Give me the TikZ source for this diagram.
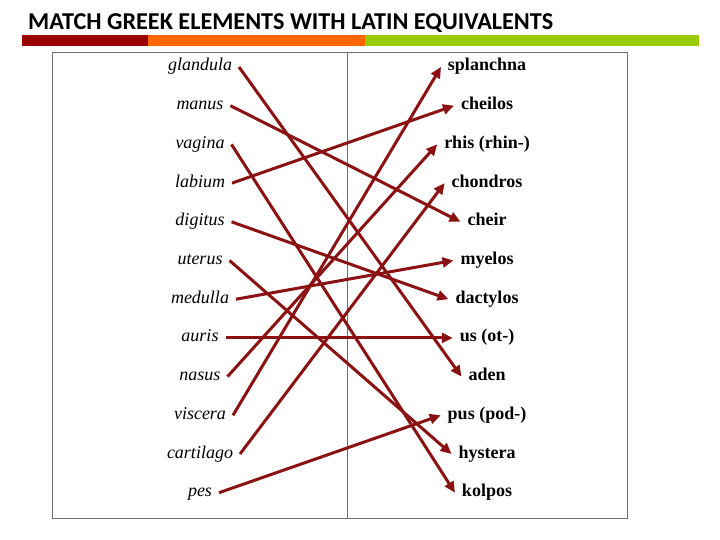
\documentclass[tikz,border=0pt]{standalone}
\usepackage{fontspec}
\setmainfont{Liberation Serif}
\newfontfamily\titlefont{Carlito}
\usetikzlibrary{arrows.meta}
\definecolor{matchred}{RGB}{139,18,18}
\definecolor{barred}{RGB}{153,0,0}
\definecolor{barorange}{RGB}{255,102,0}
\definecolor{bargreen}{RGB}{153,204,0}
\definecolor{tablegray}{RGB}{110,110,110}
\begin{document}
\begin{tikzpicture}[x=1pt, y=-1pt,
                    greek/.style={font=\itshape\fontsize{18}{18}\selectfont,
                                  anchor=base, inner xsep=0pt, outer xsep=7pt,
                                  text height=10pt, text depth=2pt},
                    latin/.style={font=\bfseries\fontsize{18}{18}\selectfont,
                                  anchor=base, inner xsep=0pt, outer xsep=7pt,
                                  text height=10pt, text depth=2pt},
                    match/.style={draw=matchred, line width=3pt,
                                  -{Triangle[length=11pt,width=10pt]}}]
    \useasboundingbox (0,0) rectangle (720,540);
    \node[anchor=base west, inner sep=0pt] (title) at (28,30)
        {\titlefont\bfseries\fontsize{24.2}{24.2}\selectfont MATCH GREEK ELEMENTS WITH LATIN EQUIVALENTS};
    \fill[barred] (22,35) rectangle (148,46.5);
    \fill[barorange] (148,35) rectangle (365,46.5);
    \fill[bargreen] (365,35) rectangle (699,46.5);
    \draw[tablegray, line width=1pt] (52,53) rectangle (627,518);
    \draw[tablegray, line width=1pt] (347,53) -- (347,518);

    \node[greek] (glandula) at (200,71) {glandula};
    \node[greek] (manus) at (200,109.7) {manus};
    \node[greek] (vagina) at (200,148.4) {vagina};
    \node[greek] (labium) at (200,187.1) {labium};
    \node[greek] (digitus) at (200,225.8) {digitus};
    \node[greek] (uterus) at (200,264.5) {uterus};
    \node[greek] (medulla) at (200,303.2) {medulla};
    \node[greek] (auris) at (200,341.9) {auris};
    \node[greek] (nasus) at (200,380.6) {nasus};
    \node[greek] (viscera) at (200,419.3) {viscera};
    \node[greek] (cartilago) at (200,458) {cartilago};
    \node[greek] (pes) at (200,496.7) {pes};

    \node[latin] (splanchna) at (487,71) {splanchna};
    \node[latin] (cheilos) at (487,109.7) {cheilos};
    \node[latin] (rhis) at (487,148.4) {rhis (rhin-)};
    \node[latin] (chondros) at (487,187.1) {chondros};
    \node[latin] (cheir) at (487,225.8) {cheir};
    \node[latin] (myelos) at (487,264.5) {myelos};
    \node[latin] (dactylos) at (487,303.2) {dactylos};
    \node[latin] (ot) at (487,341.9) {us (ot-)};
    \node[latin] (aden) at (487,380.6) {aden};
    \node[latin] (pod) at (487,419.3) {pus (pod-)};
    \node[latin] (hystera) at (487,458) {hystera};
    \node[latin] (kolpos) at (487,496.7) {kolpos};

    \draw[match] (glandula.east) -- (aden.west);
    \draw[match] (manus.east) -- (cheir.west);
    \draw[match] (vagina.east) -- (kolpos.west);
    \draw[match] (labium.east) -- (cheilos.west);
    \draw[match] (digitus.east) -- (dactylos.west);
    \draw[match] (uterus.east) -- (hystera.west);
    \draw[match] (medulla.east) -- (myelos.west);
    \draw[match] (auris.east) -- (ot.west);
    \draw[match] (nasus.east) -- (rhis.west);
    \draw[match] (viscera.east) -- (splanchna.west);
    \draw[match] (cartilago.east) -- (chondros.west);
    \draw[match] (pes.east) -- (pod.west);
\end{tikzpicture}
\end{document}
